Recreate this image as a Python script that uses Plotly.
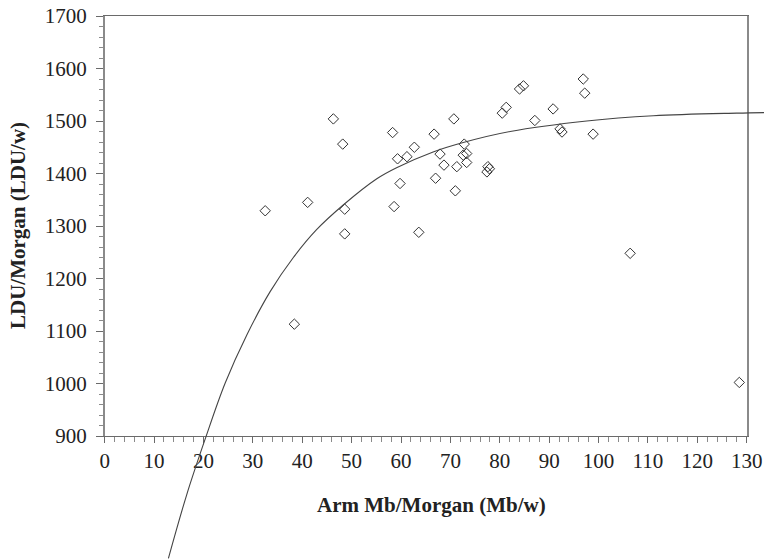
import plotly.graph_objects as go

# ---- data ----
arm_mb = [32.5, 38.4, 41.1, 46.3, 48.2, 48.6, 48.6, 58.3, 58.6, 59.3, 59.8, 61.2,
          62.7, 63.6, 66.7, 67.0, 67.9, 68.7, 70.7, 71.0, 71.3, 72.8, 72.6, 73.3,
          73.3, 77.6, 77.9, 77.4, 80.5, 81.3, 84.0, 84.8, 87.1, 90.8, 92.2, 92.6,
          96.9, 97.2, 98.9, 106.4, 128.5]
ldu = [1329, 1113, 1345, 1504, 1456, 1332, 1285, 1478, 1337, 1428, 1381, 1432,
       1450, 1288, 1475, 1391, 1437, 1416, 1504, 1367, 1413, 1456, 1435, 1438,
       1421, 1413, 1409, 1403, 1515, 1526, 1561, 1567, 1501, 1523, 1485, 1479,
       1580, 1553, 1475, 1248, 1002]

curve_x = [12.9, 16.6, 20.3, 24.4, 28.8, 33.5, 38.2, 42.9, 48.3, 55.1, 59.1,
           66.5, 72.6, 82.1, 97.6, 111.1, 128.0, 133.6]
curve_y = [667, 788, 893, 1001, 1093, 1175, 1240, 1293, 1340, 1390, 1411,
           1441, 1459, 1480, 1500, 1510, 1515, 1516]

x_ticks = list(range(0, 131, 10))
y_ticks = list(range(900, 1701, 100))

# ---- layout geometry ----
W, H = 764, 559
px_left, px_right = 104.7, 746.7
px_top, px_bot = 16.0, 436.0
dx = [px_left / W, px_right / W]
dy = [(H - px_bot) / H, (H - px_top) / H]
xr = [0, 130]
yr = [900, 1700]

sx = (xr[1] - xr[0]) / (dx[1] - dx[0])
sy = (yr[1] - yr[0]) / (dy[1] - dy[0])
x2r = [xr[0] - dx[0] * sx, xr[1] + (1 - dx[1]) * sx]
y2r = [yr[0] - dy[0] * sy, yr[1] + (1 - dy[1]) * sy]

FONT = "Liberation Serif, Times New Roman, serif"
AX = "#6a6a6a"

fig = go.Figure()
fig.add_trace(go.Scatter(
    x=curve_x, y=curve_y, mode="lines", xaxis="x2", yaxis="y2",
    line=dict(color="#444444", width=1.1, shape="spline", smoothing=1.0),
    hoverinfo="skip", showlegend=False))
fig.add_trace(go.Scatter(
    x=arm_mb, y=ldu, mode="markers",
    marker=dict(symbol="diamond-open", size=8, color="#333333",
                line=dict(width=1, color="#333333")),
    showlegend=False))

fig.update_layout(
    width=W, height=H,
    margin=dict(l=0, r=0, t=0, b=0),
    paper_bgcolor="white", plot_bgcolor="rgba(0,0,0,0)",
    font=dict(family=FONT, color="#222222"),
    xaxis=dict(domain=dx, range=xr, tickvals=x_ticks, ticks="outside", ticklen=6,
               tickcolor=AX, tickwidth=1, showline=True, linecolor=AX, linewidth=1,
               mirror=True, showgrid=False, zeroline=False,
               tickfont=dict(family=FONT, size=21, color="#222222"),
               minor=dict(dtick=2, ticks="outside", ticklen=5, tickcolor="#8a8a8a"),
               automargin=False, anchor="y"),
    yaxis=dict(domain=dy, range=yr, tickvals=y_ticks, ticks="outside", ticklen=7,
               tickcolor=AX, tickwidth=1, showline=True, linecolor="#8a8a8a", linewidth=1.5,
               mirror=True, showgrid=False, zeroline=False, ticklabelstandoff=5,
               tickfont=dict(family=FONT, size=21, color="#222222"),
               minor=dict(dtick=20, ticks="outside", ticklen=4, tickcolor="#8a8a8a"),
               automargin=False, anchor="x"),
    xaxis2=dict(domain=[0, 1], range=x2r, visible=False, anchor="y2"),
    yaxis2=dict(domain=[0, 1], range=y2r, visible=False, anchor="x2"),
    annotations=[
        dict(text="<b>Arm Mb/Morgan (Mb/w)</b>", xref="paper", yref="paper",
             x=431.7 / W, y=(H - 505) / H, xanchor="center", yanchor="middle",
             showarrow=False, font=dict(family=FONT, size=21, color="#222222")),
        dict(text="<b>LDU/Morgan (LDU/w)</b>", xref="paper", yref="paper",
             x=18 / W, y=(H - 226) / H, xanchor="center", yanchor="middle",
             textangle=-90, showarrow=False,
             font=dict(family=FONT, size=21, color="#222222")),
    ],
)

fig.write_html("out.html")
